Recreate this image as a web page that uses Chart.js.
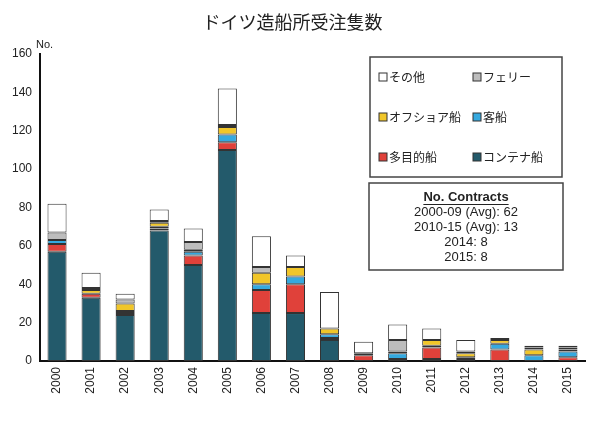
<!DOCTYPE html>
<html>
<head>
<meta charset="utf-8">
<script src="https://cdn.jsdelivr.net/npm/chart.js@4"></script>
<style>
  body { margin: 0; background: #fff; }
  #wrap { width: 592px; height: 441px; }
</style>
</head>
<body>
<div id="wrap"><canvas id="myChart"></canvas></div>
<script>
const years = ["2000", "2001", "2002", "2003", "2004", "2005", "2006", "2007",
  "2008", "2009", "2010", "2011", "2012", "2013", "2014", "2015"];

// bottom to top of each stack
const container = [57, 33, 24, 68, 50, 110, 25, 25, 11, 0, 1, 1, 1, 0, 0, 0];
const multi     = [4, 2, 1, 1, 5, 4, 12, 15, 1, 3, 0, 6, 0, 6, 0, 2];
const passenger = [2, 0, 1, 1, 2, 4, 3, 4, 2, 0, 3, 1, 1, 3, 3, 3];
const offshore  = [0, 2, 4, 2, 1, 4, 6, 5, 3, 0, 1, 3, 2, 2, 3, 1];
const ferry     = [4, 1, 2, 1, 4, 1, 3, 0, 0, 1, 6, 0, 1, 1, 1, 1];
const others    = [15, 8, 3, 6, 7, 19, 16, 6, 19, 6, 8, 6, 6, 0, 1, 1];

const yTicks = [0, 20, 40, 60, 80, 100, 120, 140, 160];

const noteTitle = "No. Contracts";
const noteLines = ["2000-09 (Avg): 62", "2010-15 (Avg): 13", "2014: 8", "2015: 8"];

const fontLatin = "'Liberation Sans', Arial, sans-serif";
const fontJp = "'Noto Sans CJK JP', 'Liberation Sans', sans-serif";

function ds(label, values, color) {
  return {
    label: label,
    // zero segments are left out so they don't leave a border line
    data: values.map(v => (v === 0 ? null : v)),
    backgroundColor: color,
    borderColor: "#333",
    borderWidth: 1,
    borderSkipped: false,
    barPercentage: 0.56,
    categoryPercentage: 1.0
  };
}

const data = {
  labels: years,
  datasets: [
    ds("コンテナ船", container, "#235a6b"),
    ds("多目的船", multi, "#e0413a"),
    ds("客船", passenger, "#35a9df"),
    ds("オフショア船", offshore, "#f1c629"),
    ds("フェリー", ferry, "#bdbdbd"),
    ds("その他", others, "#ffffff")
  ]
};

// legend box + note box + "No." label drawn on the canvas
const boxes = {
  id: "boxes",
  afterDraw(chart) {
    const ctx = chart.ctx;
    const area = chart.chartArea;
    ctx.save();

    ctx.fillStyle = "#222";
    ctx.font = "11px " + fontLatin;
    ctx.textAlign = "left";
    ctx.textBaseline = "middle";
    ctx.fillText("No.", area.left - 4, area.top - 9);

    // legend
    ctx.strokeStyle = "#444";
    ctx.lineWidth = 1.5;
    ctx.fillStyle = "#fff";
    ctx.fillRect(370, 57, 192, 120);
    ctx.strokeRect(370, 57, 192, 120);

    const order = [5, 4, 3, 2, 1, 0];
    order.forEach((di, i) => {
      const d = chart.data.datasets[di];
      const col = i % 2, row = Math.floor(i / 2);
      const x = 383 + col * 94;
      const y = 77 + row * 40;
      ctx.fillStyle = d.backgroundColor;
      ctx.fillRect(x - 4, y - 4, 8, 8);
      ctx.strokeStyle = "#333";
      ctx.lineWidth = 1;
      ctx.strokeRect(x - 4, y - 4, 8, 8);
      ctx.fillStyle = "#222";
      ctx.font = "12px " + fontJp;
      ctx.textAlign = "left";
      ctx.fillText(d.label, x + 6, y);
    });

    // note box
    ctx.strokeStyle = "#444";
    ctx.lineWidth = 1.5;
    ctx.fillStyle = "#fff";
    ctx.fillRect(369, 183, 194, 87);
    ctx.strokeRect(369, 183, 194, 87);

    const cx = 466;
    ctx.fillStyle = "#222";
    ctx.textAlign = "center";
    ctx.font = "bold 13px " + fontLatin;
    ctx.fillText(noteTitle, cx, 197);
    const w = ctx.measureText(noteTitle).width;
    ctx.lineWidth = 1;
    ctx.strokeStyle = "#222";
    ctx.beginPath();
    ctx.moveTo(cx - w / 2, 204.5);
    ctx.lineTo(cx + w / 2, 204.5);
    ctx.stroke();
    ctx.font = "13px " + fontLatin;
    noteLines.forEach((t, i) => ctx.fillText(t, cx, 212.5 + i * 15));

    ctx.restore();
  }
};

const options = {
  responsive: true,
  maintainAspectRatio: false,
  animation: false,
  layout: { padding: { left: 0, right: 7, top: 0, bottom: 0 } },
  plugins: {
    legend: { display: false },
    tooltip: { enabled: false },
    title: {
      display: true,
      text: "ドイツ造船所受注隻数",
      color: "#222",
      font: { family: fontJp, size: 18, weight: "normal", lineHeight: 1.2 },
      padding: { top: 11, bottom: 21.4 }
    }
  },
  scales: {
    x: {
      stacked: true,
      grid: { display: false, drawTicks: false },
      border: { display: true, color: "#111", width: 2 },
      ticks: {
        color: "#222",
        font: { family: fontLatin, size: 12 },
        maxRotation: 90,
        minRotation: 90,
        padding: 6
      },
      afterFit(scale) { scale.height = 80; }
    },
    y: {
      stacked: true,
      min: 0,
      max: 160,
      grid: { display: false, drawTicks: false },
      border: { display: true, color: "#111", width: 2 },
      afterBuildTicks(scale) { scale.ticks = yTicks.map(v => ({ value: v })); },
      ticks: {
        color: "#222",
        font: { family: fontLatin, size: 12 },
        padding: 8
      },
      afterFit(scale) { scale.width = 40; }
    }
  }
};

const config = {
  type: "bar",
  data: data,
  options: options,
  plugins: [boxes]
};

const myChart = new Chart(document.getElementById("myChart"), config);
</script>
</body>
</html>
